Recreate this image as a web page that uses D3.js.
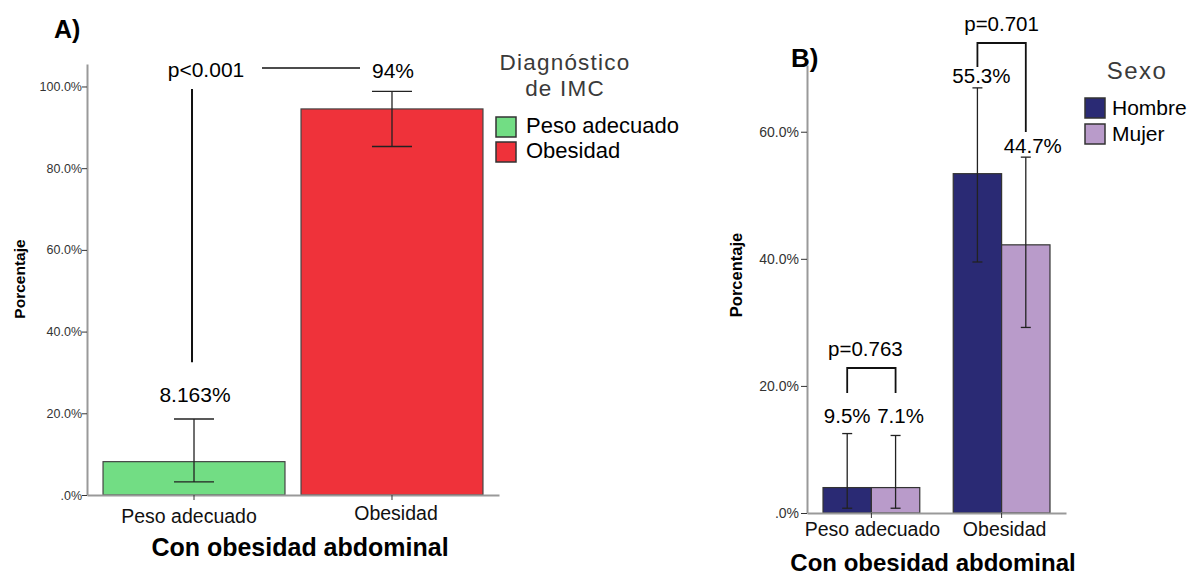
<!DOCTYPE html>
<html>
<head>
<meta charset="utf-8">
<script src="https://cdn.jsdelivr.net/npm/d3@7"></script>
<style>
  body { margin: 0; background: #fff; }
  svg { font-family: "Liberation Sans", Arial, sans-serif; }
</style>
</head>
<body>
<svg id="chart" width="1189" height="575"></svg>
<script>
// ---- panel A data ----
const catsA = ["Peso adecuado", "Obesidad"];
const valuesA = [8.163, 94.5];
const errLowA = [3.2, 85.3];
const errHighA = [18.6, 98.8];
const labelsA = ["8.163%", "94%"];
const colorsA = ["#72dd84", "#ef323a"];

// ---- panel B data ----
const catsB = ["Peso adecuado", "Obesidad"];
const sexB = ["Hombre", "Mujer"];
const hombreB = [4.0, 53.4];
const mujerB = [4.0, 42.2];
const hombreLow = [0.75, 39.5];
const hombreHigh = [12.5, 66.9];
const mujerLow = [0.75, 29.2];
const mujerHigh = [12.2, 56.0];
const labelsB = [["9.5%", "7.1%"], ["55.3%", "44.7%"]];
const pvalB = ["p=0.763", "p=0.701"];
const colorsB = ["#2a2a74", "#b99bca"];

const ticksA = [0, 20, 40, 60, 80, 100];
const ticksB = [0, 20, 40, 60];

const svg = d3.select("#chart");
const fmt = d => d === 0 ? ".0%" : d.toFixed(1) + "%";

// ================= Panel A =================
const gA = svg.append("g");
const yA = d3.scaleLinear().domain([0, 105.5]).range([495, 64]);
const xA = d3.scaleBand().domain(catsA).range([87, 499])
    .paddingInner(0.081).paddingOuter(0.081);

const dataA = catsA.map((c, i) => ({
    cat: c, value: valuesA[i], lo: errLowA[i], hi: errHighA[i], label: labelsA[i], color: colorsA[i]
}));

gA.selectAll("rect.bar")
    .data(dataA)
    .enter()
    .append("rect")
    .attr("class", "bar")
    .attr("x", d => xA(d.cat))
    .attr("y", d => yA(d.value))
    .attr("width", xA.bandwidth())
    .attr("height", d => yA(0) - yA(d.value))
    .attr("fill", d => d.color)
    .attr("stroke", "#444")
    .attr("stroke-width", 1.2);

// error bars
const ebA = gA.selectAll("g.eb").data(dataA).enter().append("g").attr("class", "eb");
ebA.append("line")
    .attr("x1", d => xA(d.cat) + xA.bandwidth() / 2)
    .attr("x2", d => xA(d.cat) + xA.bandwidth() / 2)
    .attr("y1", d => yA(d.lo)).attr("y2", d => yA(d.hi));
ebA.append("line")
    .attr("x1", d => xA(d.cat) + xA.bandwidth() / 2 - 20)
    .attr("x2", d => xA(d.cat) + xA.bandwidth() / 2 + 20)
    .attr("y1", d => yA(d.hi)).attr("y2", d => yA(d.hi));
ebA.append("line")
    .attr("x1", d => xA(d.cat) + xA.bandwidth() / 2 - 20)
    .attr("x2", d => xA(d.cat) + xA.bandwidth() / 2 + 20)
    .attr("y1", d => yA(d.lo)).attr("y2", d => yA(d.lo));
ebA.selectAll("line").attr("stroke", "#222").attr("stroke-width", 1.3);

// axes
const yAxisA = gA.append("g")
    .attr("class", "yAxis")
    .attr("transform", `translate(${xA.range()[0]}, 0)`)
    .call(d3.axisLeft(yA).tickValues(ticksA).tickFormat(fmt).tickSize(5).tickSizeOuter(0));
const xAxisA = gA.append("g")
    .attr("class", "xAxis")
    .attr("transform", `translate(0, ${yA(0)})`)
    .call(d3.axisBottom(xA).tickSize(5).tickSizeOuter(0));

yAxisA.select(".domain").attr("stroke", "#999").attr("stroke-width", 2);
yAxisA.selectAll(".tick line").attr("stroke", "#333");
yAxisA.selectAll("text").attr("font-size", 12.5).attr("fill", "#333").attr("x", -5);
xAxisA.select(".domain").attr("stroke", "#999").attr("stroke-width", 2);
xAxisA.selectAll(".tick line").attr("stroke", "#333");
xAxisA.selectAll("text").attr("font-size", 19.5).attr("fill", "#111")
    .attr("y", (d, i) => i === 0 ? 14 : 11)
    .attr("x", (d, i) => i === 0 ? -5 : 4);

gA.append("text")
    .attr("transform", `translate(25, 279) rotate(-90)`)
    .attr("text-anchor", "middle")
    .attr("font-size", 15.5).attr("font-weight", "bold")
    .text("Porcentaje");
gA.append("text")
    .attr("x", 300).attr("y", 556)
    .attr("text-anchor", "middle")
    .attr("font-size", 25).attr("font-weight", "bold")
    .text("Con obesidad abdominal");
gA.append("text")
    .attr("x", 54).attr("y", 38)
    .attr("font-size", 25).attr("font-weight", "bold")
    .text("A)");

// value labels
gA.selectAll("text.val")
    .data(dataA)
    .enter()
    .append("text")
    .attr("class", "val")
    .attr("x", d => xA(d.cat) + xA.bandwidth() / 2 + 1)
    .attr("y", (d, i) => i === 0 ? yA(d.hi) - 17 : 78)
    .attr("text-anchor", "middle")
    .attr("font-size", 21)
    .text(d => d.label);

// p-value annotation
const cxA0 = xA(catsA[0]) + xA.bandwidth() / 2 - 2;
gA.append("line")
    .attr("x1", cxA0).attr("x2", cxA0)
    .attr("y1", 89).attr("y2", yA(32.5))
    .attr("stroke", "#111").attr("stroke-width", 2);
gA.append("line")
    .attr("x1", 262).attr("x2", 360)
    .attr("y1", 68).attr("y2", 68)
    .attr("stroke", "#111").attr("stroke-width", 1.5);
gA.append("text")
    .attr("x", 206).attr("y", 77)
    .attr("text-anchor", "middle")
    .attr("font-size", 21)
    .text("p<0.001");

// legend A
const legA = gA.append("g").attr("transform", "translate(496, 0)");
legA.append("text")
    .attr("x", 69).attr("y", 70)
    .attr("text-anchor", "middle")
    .attr("font-size", 22.5).attr("fill", "#3a3a3a").attr("letter-spacing", 1.2)
    .selectAll("tspan")
    .data(["Diagnóstico", "de IMC"])
    .enter()
    .append("tspan")
    .attr("x", 69)
    .attr("dy", (d, i) => i === 0 ? 0 : 26)
    .text(d => d);
const legItemsA = legA.selectAll("g.item")
    .data(catsA)
    .enter()
    .append("g")
    .attr("class", "item")
    .attr("transform", (d, i) => `translate(0, ${117 + i * 25})`);
legItemsA.append("rect")
    .attr("width", 20).attr("height", 20)
    .attr("fill", (d, i) => colorsA[i])
    .attr("stroke", "#333").attr("stroke-width", 1.5);
legItemsA.append("text")
    .attr("x", 30).attr("y", 16)
    .attr("font-size", 22)
    .text(d => d);

// ================= Panel B =================
const gB = svg.append("g");
const yB = d3.scaleLinear().domain([0, 70.5]).range([513, 65]);
const xB = d3.scaleBand().domain(catsB).range([807, 1066])
    .paddingInner(0.257).paddingOuter(0.123);
const xSub = d3.scaleBand().domain(sexB).range([0, xB.bandwidth()]);

const dataB = [];
catsB.forEach((c, i) => {
    dataB.push({cat: c, sex: "Hombre", value: hombreB[i], lo: hombreLow[i], hi: hombreHigh[i], label: labelsB[i][0], color: colorsB[0]});
    dataB.push({cat: c, sex: "Mujer", value: mujerB[i], lo: mujerLow[i], hi: mujerHigh[i], label: labelsB[i][1], color: colorsB[1]});
});
const cxB = d => xB(d.cat) + xSub(d.sex) + xSub.bandwidth() / 2;

gB.selectAll("rect.bar")
    .data(dataB)
    .enter()
    .append("rect")
    .attr("class", "bar")
    .attr("x", d => xB(d.cat) + xSub(d.sex))
    .attr("y", d => yB(d.value))
    .attr("width", xSub.bandwidth())
    .attr("height", d => yB(0) - yB(d.value))
    .attr("fill", d => d.color)
    .attr("stroke", "#333")
    .attr("stroke-width", 1.2);

const ebB = gB.selectAll("g.eb").data(dataB).enter().append("g").attr("class", "eb");
ebB.append("line")
    .attr("x1", cxB).attr("x2", cxB)
    .attr("y1", d => yB(d.lo)).attr("y2", d => yB(d.hi));
ebB.append("line")
    .attr("x1", d => cxB(d) - 5).attr("x2", d => cxB(d) + 5)
    .attr("y1", d => yB(d.hi)).attr("y2", d => yB(d.hi));
ebB.append("line")
    .attr("x1", d => cxB(d) - 5).attr("x2", d => cxB(d) + 5)
    .attr("y1", d => yB(d.lo)).attr("y2", d => yB(d.lo));
ebB.selectAll("line").attr("stroke", "#222").attr("stroke-width", 1.3);

const yAxisB = gB.append("g")
    .attr("class", "yAxis")
    .attr("transform", `translate(${xB.range()[0]}, 0)`)
    .call(d3.axisLeft(yB).tickValues(ticksB).tickFormat(fmt).tickSize(6).tickSizeOuter(0));
const xAxisB = gB.append("g")
    .attr("class", "xAxis")
    .attr("transform", `translate(0, ${yB(0)})`)
    .call(d3.axisBottom(xB).tickSize(5).tickSizeOuter(0));

yAxisB.select(".domain").attr("stroke", "#999").attr("stroke-width", 2);
yAxisB.selectAll(".tick line").attr("stroke", "#333");
yAxisB.selectAll("text").attr("font-size", 14).attr("fill", "#333").attr("x", -8);
xAxisB.select(".domain").attr("stroke", "#999").attr("stroke-width", 2);
xAxisB.selectAll(".tick line").attr("stroke", "#333");
xAxisB.selectAll("text").attr("font-size", 19.5).attr("fill", "#111").attr("y", 9)
    .attr("x", (d, i) => i === 0 ? 1 : 3);

gB.append("text")
    .attr("transform", `translate(742, 275) rotate(-90)`)
    .attr("text-anchor", "middle")
    .attr("font-size", 16.5).attr("font-weight", "bold")
    .text("Porcentaje");
gB.append("text")
    .attr("x", 933).attr("y", 571)
    .attr("text-anchor", "middle")
    .attr("font-size", 24).attr("font-weight", "bold")
    .text("Con obesidad abdominal");
gB.append("text")
    .attr("x", 791).attr("y", 67)
    .attr("font-size", 26).attr("font-weight", "bold")
    .text("B)");

// value labels
const labelYB = [423, 423, 83, 153];
gB.selectAll("text.val")
    .data(dataB)
    .enter()
    .append("text")
    .attr("class", "val")
    .attr("x", (d, i) => cxB(d) + [0, 5, 4, 7][i])
    .attr("y", (d, i) => labelYB[i])
    .attr("text-anchor", "middle")
    .attr("font-size", 20.5)
    .text(d => d.label);

// p-value brackets
const bracketTop = [368, 43];
const bracketEnd = [[393, 393], [67, 132]];
const pShift = [-6, 0];
catsB.forEach((c, i) => {
    const xl = xB(c) + xSub("Hombre") + xSub.bandwidth() / 2;
    const xr = xB(c) + xSub("Mujer") + xSub.bandwidth() / 2;
    gB.append("path")
        .attr("d", `M${xl},${bracketEnd[i][0]}V${bracketTop[i]}H${xr}V${bracketEnd[i][1]}`)
        .attr("fill", "none")
        .attr("stroke", "#111")
        .attr("stroke-width", 1.8);
    gB.append("text")
        .attr("x", (xl + xr) / 2 + pShift[i])
        .attr("y", bracketTop[i] - 12)
        .attr("text-anchor", "middle")
        .attr("font-size", 20.5)
        .text(pvalB[i]);
});

// legend B
const legB = gB.append("g").attr("transform", "translate(1085, 0)");
legB.append("text")
    .attr("x", 52).attr("y", 79)
    .attr("text-anchor", "middle")
    .attr("font-size", 24).attr("fill", "#3a3a3a").attr("letter-spacing", 1.5)
    .text("Sexo");
const legItemsB = legB.selectAll("g.item")
    .data(sexB)
    .enter()
    .append("g")
    .attr("class", "item")
    .attr("transform", (d, i) => `translate(0, ${98 + i * 26})`);
legItemsB.append("rect")
    .attr("width", 20).attr("height", 20)
    .attr("fill", (d, i) => colorsB[i])
    .attr("stroke", "#333").attr("stroke-width", 1.5);
legItemsB.append("text")
    .attr("x", 27).attr("y", 17)
    .attr("font-size", 21)
    .text(d => d);
</script>
</body>
</html>
